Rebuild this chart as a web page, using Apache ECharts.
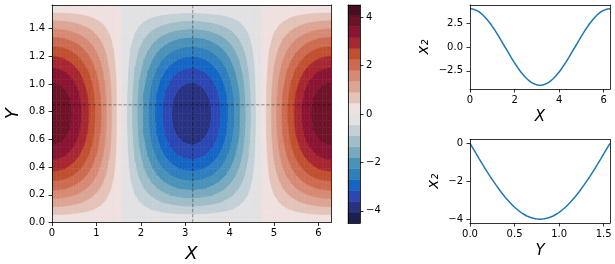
<!DOCTYPE html>
<html><head><meta charset="utf-8">
<script src="https://cdn.jsdelivr.net/npm/echarts@6/dist/echarts.min.js"></script>
<style>html,body{margin:0;padding:0;background:#fff}#c{width:615px;height:264px}</style>
</head><body><div id="c"></div>
<script>
// x2 along X at Y = crossY (top-right panel), read at 65 evenly spaced X in [0, 2π]
const profileX = [4.00,3.98,3.92,3.83,3.70,3.53,3.33,3.09,2.83,2.54,2.22,1.89,1.53,1.16,0.78,0.39,0.00,
  -0.39,-0.78,-1.16,-1.53,-1.89,-2.22,-2.54,-2.83,-3.09,-3.33,-3.53,-3.70,-3.83,-3.92,-3.98,-4.00,
  -3.98,-3.92,-3.83,-3.70,-3.53,-3.33,-3.09,-2.83,-2.54,-2.22,-1.89,-1.53,-1.16,-0.78,-0.39,0.00,
  0.39,0.78,1.16,1.53,1.89,2.22,2.54,2.83,3.09,3.33,3.53,3.70,3.83,3.92,3.98,4.00];
// x2 along Y at X = crossX (bottom-right panel), read at 33 evenly spaced Y in [0, π/2]
const profileY = [0.00,-0.39,-0.78,-1.16,-1.53,-1.89,-2.22,-2.54,-2.83,-3.09,-3.33,-3.53,-3.70,-3.83,-3.92,-3.98,-4.00,
  -3.98,-3.92,-3.83,-3.70,-3.53,-3.33,-3.09,-2.83,-2.54,-2.22,-1.89,-1.53,-1.16,-0.78,-0.39,0.00];
const xMax = 6.283, yMax = 1.571;
const crossX = 3.17, crossY = 0.85;
const crossValue = -4.00; // field value where the two profiles cross
const levels = [-4.5,-4.05,-3.6,-3.15,-2.7,-2.25,-1.8,-1.35,-0.9,-0.45,0,0.45,0.9,1.35,1.8,2.25,2.7,3.15,3.6,4.05,4.5];
const levelColors = ['#1c2050','#283281','#2b47b3','#1366c6','#2f7fbd','#4a92b8','#77a9bf','#9fbec8','#c3d0d6','#e2e2e4',
  '#efe1df','#e4c3b8','#dca593','#d68a73','#cc6b50','#c0502f','#a82630','#8b1432','#6f1228','#4a0e1f'];
const mainXTicks = [0,1,2,3,4,5,6];
const mainYTicks = [0,0.2,0.4,0.6,0.8,1.0,1.2,1.4];
const cbarTicks = [-4,-2,0,2,4];
const topXTicks = [0,2,4,6];
const topYTicks = [-2.5,0,2.5];
const botXTicks = [0,0.5,1.0,1.5];
const botYTicks = [-4,-2,0];

const nX = profileX.length, nY = profileY.length;
const xs = profileX.map((_, i) => xMax * i / (nX - 1));
const ys = profileY.map((_, j) => yMax * j / (nY - 1));
const field = xs.map((_, i) => ys.map((_, j) => profileX[i] * profileY[j] / crossValue));

function clipHalf(poly, fn) {
  const out = [], n = poly.length;
  for (let i = 0; i < n; i++) {
    const a = poly[i], b = poly[(i + 1) % n];
    const fa = fn(a), fb = fn(b);
    if (fa >= 0) out.push(a);
    if ((fa >= 0) !== (fb >= 0)) {
      const t = fa / (fa - fb);
      out.push([a[0] + t * (b[0] - a[0]), a[1] + t * (b[1] - a[1]), a[2] + t * (b[2] - a[2])]);
    }
  }
  return out;
}
function renderContour(params, api) {
  const children = [];
  for (let i = 0; i < nX - 1; i++) for (let j = 0; j < nY - 1; j++) {
    const quad = [[xs[i], ys[j], field[i][j]], [xs[i+1], ys[j], field[i+1][j]],
                  [xs[i+1], ys[j+1], field[i+1][j+1]], [xs[i], ys[j+1], field[i][j+1]]];
    const vs = quad.map(p => p[2]);
    const vmin = Math.min(...vs), vmax = Math.max(...vs);
    for (let b = 0; b < levelColors.length; b++) {
      const lo = levels[b], hi = levels[b + 1];
      if (hi <= vmin || lo >= vmax) continue;
      let poly = clipHalf(quad, p => p[2] - lo);
      if (poly.length < 3) continue;
      poly = clipHalf(poly, p => hi - p[2]);
      if (poly.length < 3) continue;
      children.push({type: 'polygon', silent: true,
        shape: {points: poly.map(p => api.coord([p[0], p[1]]))},
        style: {fill: levelColors[b], stroke: levelColors[b], lineWidth: 0.6}});
    }
  }
  return {type: 'group', children};
}
function renderCbar(params, api) {
  const lo = api.coord([0, api.value(0)]), hi = api.coord([1, api.value(1)]);
  const c = levelColors[api.value(2)];
  return {type: 'rect', shape: {x: lo[0], y: hi[1], width: hi[0] - lo[0], height: lo[1] - hi[1]},
    style: {fill: c, stroke: c, lineWidth: 0.5}};
}

const font = 'DejaVu Sans';
const minus = (v, d) => (v < 0 ? '\u2212' : '') + Math.abs(v).toFixed(d);
function frameAxis(gridIndex, position, min, max) {
  return {type: 'value', gridIndex, position, min, max, z: 5, splitLine: {show: false},
    axisLine: {show: true, onZero: false, lineStyle: {color: '#000', width: 0.8}},
    axisTick: {show: false}, axisLabel: {show: false}};
}
function tickAxis(gridIndex, position, min, max, ticks, d, margin, extra) {
  return Object.assign(frameAxis(gridIndex, position, min, max), {
    axisTick: {show: true, length: 3.5, lineStyle: {color: '#000', width: 0.8}, customValues: ticks},
    axisLabel: {show: true, customValues: ticks, formatter: v => minus(v, d), fontSize: 10,
      fontFamily: font, color: '#000', margin: margin}
  }, extra || {});
}
const nameStyle = (size) => ({fontSize: size, fontStyle: 'italic', fontFamily: font, color: '#000'});
const g = (o) => Object.assign({outerBoundsMode: 'none', containLabel: false}, o);

const option = {
  animation: false,
  grid: [
    g({left: 52, top: 5, width: 279, height: 217.5}),
    g({left: 348, top: 5, width: 12, height: 218}),
    g({left: 470, top: 5, width: 140, height: 84}),
    g({left: 470, top: 139.5, width: 140, height: 83.5})
  ],
  xAxis: [
    tickAxis(0, 'bottom', 0, xMax, mainXTicks, 0, 6, {name: 'X', nameLocation: 'middle', nameGap: 23, nameTextStyle: nameStyle(18)}),
    frameAxis(0, 'top', 0, xMax),
    frameAxis(1, 'bottom', 0, 1),
    frameAxis(1, 'top', 0, 1),
    tickAxis(2, 'bottom', 0, xMax, topXTicks, 0, 6, {name: 'X', nameLocation: 'middle', nameGap: 21, nameTextStyle: nameStyle(15)}),
    frameAxis(2, 'top', 0, xMax),
    tickAxis(3, 'bottom', 0, yMax, botXTicks, 1, 6, {name: 'Y', nameLocation: 'middle', nameGap: 21, nameTextStyle: nameStyle(15)}),
    frameAxis(3, 'top', 0, yMax)
  ],
  yAxis: [
    tickAxis(0, 'left', 0, yMax, mainYTicks, 1, 7, {name: 'Y', nameLocation: 'middle', nameGap: 30, nameRotate: 90, nameTextStyle: nameStyle(18)}),
    frameAxis(0, 'right', 0, yMax),
    tickAxis(1, 'right', -4.5, 4.5, cbarTicks, 0, 6),
    frameAxis(1, 'left', -4.5, 4.5),
    tickAxis(2, 'left', -4.4, 4.4, topYTicks, 1, 7, {name: 'x\u2082', nameLocation: 'middle', nameGap: 38, nameRotate: 90, nameTextStyle: nameStyle(15)}),
    frameAxis(2, 'right', -4.4, 4.4),
    tickAxis(3, 'left', -4.2, 0.2, botYTicks, 0, 7, {name: 'x\u2082', nameLocation: 'middle', nameGap: 28, nameRotate: 90, nameTextStyle: nameStyle(15)}),
    frameAxis(3, 'right', -4.2, 0.2)
  ],
  series: [
    {type: 'custom', xAxisIndex: 0, yAxisIndex: 0, data: [[0, 0]], renderItem: renderContour, clip: true, silent: true, z: 1},
    {type: 'line', xAxisIndex: 0, yAxisIndex: 0, data: [[crossX, 0], [crossX, yMax]], showSymbol: false, silent: true, z: 3,
      lineStyle: {color: 'rgba(0,0,0,0.45)', width: 0.9, type: [3.5, 1.6]}},
    {type: 'line', xAxisIndex: 0, yAxisIndex: 0, data: [[0, crossY], [xMax, crossY]], showSymbol: false, silent: true, z: 3,
      lineStyle: {color: 'rgba(0,0,0,0.45)', width: 0.9, type: [3.5, 1.6]}},
    {type: 'custom', xAxisIndex: 2, yAxisIndex: 2, silent: true, renderItem: renderCbar,
      data: levelColors.map((c, i) => [levels[i], levels[i + 1], i])},
    {type: 'line', xAxisIndex: 4, yAxisIndex: 4, data: xs.map((x, i) => [x, profileX[i]]), showSymbol: false, silent: true,
      lineStyle: {color: '#1f77b4', width: 1.5}},
    {type: 'line', xAxisIndex: 6, yAxisIndex: 6, data: ys.map((y, j) => [y, profileY[j]]), showSymbol: false, silent: true,
      lineStyle: {color: '#1f77b4', width: 1.5}}
  ]
};
const chart = echarts.init(document.getElementById('c'), null, {renderer: 'canvas'});
chart.setOption(option);
</script></body></html>
